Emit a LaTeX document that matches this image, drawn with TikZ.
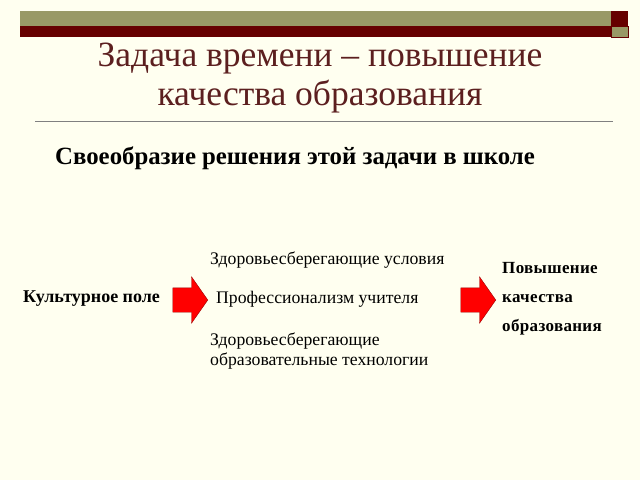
\documentclass[tikz,border=0pt]{standalone}
\usepackage{fontspec}
\setmainfont{Liberation Serif}
\usetikzlibrary{shapes.arrows}
\definecolor{slidebg}{HTML}{FFFFF0}
\definecolor{olivebar}{HTML}{999966}
\definecolor{darkbar}{HTML}{660000}
\definecolor{titlered}{HTML}{5C1F1F}
\definecolor{arrowred}{HTML}{FF0000}
\definecolor{arrowedge}{HTML}{990000}
\tikzstyle{bigarrow} = [single arrow, draw=arrowedge, fill=arrowred, inner xsep=0pt, inner ysep=12pt, minimum height=35pt, single arrow head extend=11pt, single arrow tip angle=110]
\tikzstyle{plaintext} = [anchor=west, inner sep=0pt, font=\fontsize{17.7}{20}\selectfont]
\tikzstyle{boldtext} = [anchor=west, inner sep=0pt, font=\fontsize{17}{29}\selectfont\bfseries]
\newcommand{\spaced}[1]{{\addfontfeature{LetterSpace=2}#1}}

\begin{document}
\begin{tikzpicture}[x=1pt,y=-1pt]
\fill[slidebg] (0,0) rectangle (640,480);
% top bar
\fill[olivebar] (20,11) rectangle (611,26);
\fill[darkbar] (20,26) rectangle (611,37);
\fill[darkbar] (611,11) rectangle (628,26);
\fill[olivebar] (611,26) rectangle (628,37);
\draw[darkbar, line width=0.6pt] (611,26) rectangle (628,37);
% title
\node[align=center, text=titlered, font=\fontsize{35.5}{39}\selectfont] (title) at (320,78)
    {Задача времени – повышение\\качества образования};
\draw[gray, line width=1pt] (35,121) -- (613,121);
\node[font=\fontsize{24.8}{24}\selectfont\bfseries, anchor=west, inner sep=0pt] (sub) at (55,158)
    {Своеобразие решения этой задачи в школе};
% left side
\node[boldtext, font=\fontsize{18}{20}\selectfont\bfseries] (culture) at (23,299) {Культурное поле};
\node[bigarrow] (arrowA) at (186,300) {};
% factors
\node[plaintext] (health) at (210,260) {Здоровьесберегающие условия};
\node[plaintext] (prof) at (216,299) {Профессионализм учителя};
\node[plaintext, align=left] (tech) at (210,351) {Здоровьесберегающие\\образовательные технологии};
% result
\node[bigarrow] (arrowB) at (474,300) {};
\node[boldtext, align=left] (result) at (502,299)
    {\spaced{Повышение}\\\spaced{качества}\\\spaced{образования}};
\end{tikzpicture}
\end{document}
